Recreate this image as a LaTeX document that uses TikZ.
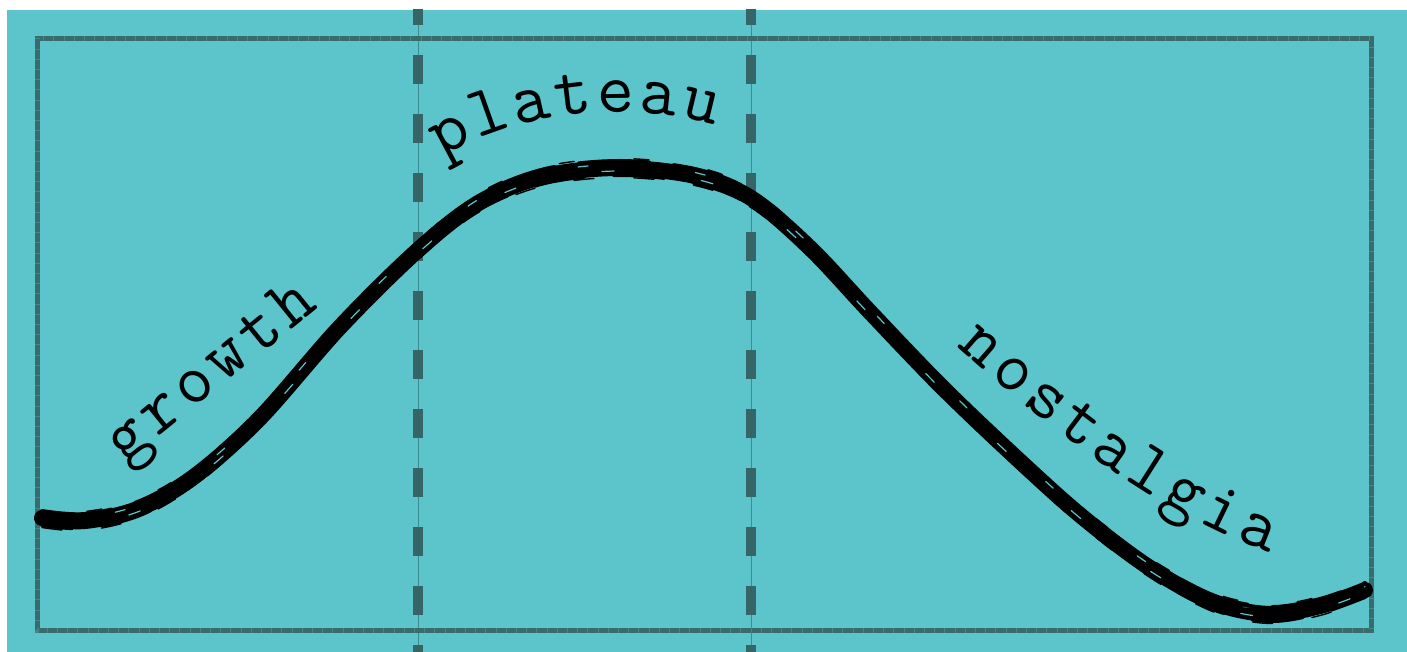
\documentclass[tikz,border=0pt]{standalone}
\usepackage{fontspec}
\newfontfamily\lmmono{Latin Modern Mono}
\usetikzlibrary{decorations.text}
\definecolor{bgteal}{HTML}{5CC5CB}
\definecolor{frameteal}{HTML}{3A6B6C}
\definecolor{darkdash}{HTML}{356566}
\definecolor{thinteal}{HTML}{3F8C90}
\newcommand{\crvpath}{plot[smooth,tension=0.55] coordinates {(42,518) (85,521) (140,508) (195,476) (260,418) (340,327) (418,250) (480,202) (545,176) (620,168) (695,176) (751,198) (810,248) (870,312) (940,385) (1010,452) (1080,515) (1150,568) (1215,603) (1270,614) (1320,606) (1365,590)}}
\tikzset{
  frameline/.style={draw=frameteal, line width=1.25pt},
  frameticks/.style={draw=frameteal!70!bgteal, line width=1.25pt, dash pattern=on 0.25pt off 2.3pt},
  guidethin/.style={draw=thinteal, line width=0.25pt},
  guidedash/.style={draw=darkdash, line width=2.5pt, dash pattern=on 7.375pt off 7.375pt},
  brush/.style={draw=black, line width=#1, line cap=round, line join=round},
  scratch/.style={draw=bgteal, line width=#1, line cap=round},
  labeltext/.style={decorate, decoration={text along path, text={|\lmmono\fontsize{18}{18}\selectfont\kern1pt|#1}, text align=left}},
  labelwide/.style={decorate, decoration={text along path, text={|\lmmono\fontsize{18}{18}\selectfont\kern1.4pt|#1}, text align=left}},
}
\begin{document}
\begin{tikzpicture}[x=0.25pt,y=-0.25pt]
\useasboundingbox (0,0) rectangle (1407,652);
\fill[white] (0,0) rectangle (1407,652);
\fill[bgteal] (7,10) rectangle (1407,652);
\begin{scope}
  \clip (7,10) rectangle (1407,652);
  \draw[guidethin] (418,10) -- (418,652);
  \draw[guidethin] (751,10) -- (751,652);
  \draw[guidedash] (418,-4) -- (418,670);
  \draw[guidedash] (751,-4) -- (751,670);
\end{scope}
\draw[frameline] (37.5,38.5) rectangle (1371,631);
\draw[frameticks] (37.5,38.5) rectangle (1371,631);
% brush curve
\draw[brush=4pt] \crvpath;
\draw[brush=1pt, shift={(0,-7)}, dash pattern=on 17.5pt off 6.25pt] \crvpath;
\draw[brush=1pt, shift={(0,7)}, dash pattern=on 12.5pt off 7.5pt, dash phase=5pt] \crvpath;
\draw[brush=0.35pt, shift={(0,9.5)}, dash pattern=on 5pt off 10pt] \crvpath;
\draw[brush=0.35pt, shift={(0,-9.5)}, dash pattern=on 3.75pt off 15pt, dash phase=7.5pt] \crvpath;
\draw[scratch=0.3pt, shift={(0,3)}, dash pattern=on 3pt off 22pt, dash phase=3pt] \crvpath;
\draw[scratch=0.3pt, shift={(0,-3.5)}, dash pattern=on 2.5pt off 27pt, dash phase=11pt] \crvpath;
\draw[brush=1.25pt] (1230,608) .. controls (1290,618) and (1330,600) .. (1362,586);
% labels
\path[labelwide=growth] (120,468) -- (372,264);
\path[labeltext=plateau] (438,160) .. controls (510,112) and (650,92) .. (745,138);
\path[labelwide=nostalgia] (952,343) .. controls (1040,421) and (1170,528) .. (1300,562);
\end{tikzpicture}
\end{document}
